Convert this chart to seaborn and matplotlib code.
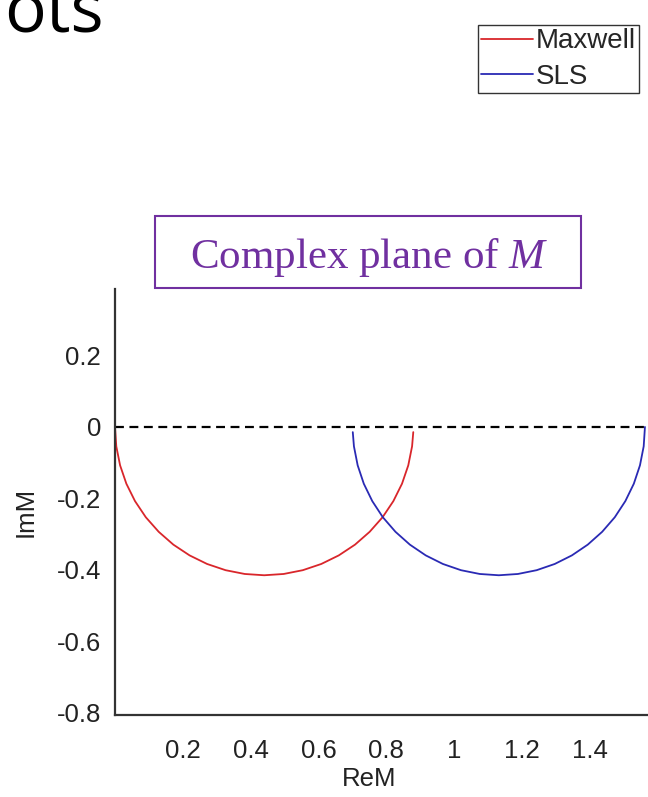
import matplotlib
matplotlib.use('Agg')
import matplotlib.pyplot as plt
import seaborn as sns
from matplotlib.patches import Rectangle

# points (ReM, ImM)
maxwell_re = [0.0, 0.0038, 0.0150, 0.0335, 0.0590, 0.0909, 0.1289, 0.1721, 0.2200,
              0.2716, 0.3261, 0.3826, 0.4400, 0.4974, 0.5539, 0.6084, 0.6600, 0.7079,
              0.7511, 0.7891, 0.8210, 0.8465, 0.8650, 0.8762, 0.8797]
maxwell_im = [0.0, -0.0542, -0.1074, -0.1588, -0.2075, -0.2527, -0.2934, -0.3293, -0.3594,
              -0.3834, -0.4008, -0.4114, -0.4150, -0.4114, -0.4008, -0.3834, -0.3594, -0.3293,
              -0.2934, -0.2527, -0.2075, -0.1588, -0.1074, -0.0542, -0.0145]
sls_re = [0.7013, 0.7047, 0.7157, 0.7338, 0.7588, 0.7900, 0.8272, 0.8697, 0.9165,
          0.9671, 1.0204, 1.0758, 1.1320, 1.1882, 1.2436, 1.2969, 1.3475, 1.3943,
          1.4368, 1.4740, 1.5052, 1.5302, 1.5483, 1.5593, 1.5630]
sls_im = [-0.0145, -0.0542, -0.1074, -0.1588, -0.2075, -0.2527, -0.2934, -0.3293, -0.3594,
          -0.3834, -0.4008, -0.4114, -0.4150, -0.4114, -0.4008, -0.3834, -0.3594, -0.3293,
          -0.2934, -0.2527, -0.2075, -0.1588, -0.1074, -0.0542, 0.0]

x_ticks = [0.2, 0.4, 0.6, 0.8, 1.0, 1.2, 1.4]
x_labels = ['0.2', '0.4', '0.6', '0.8', '1', '1.2', '1.4']
y_ticks = [0.2, 0.0, -0.2, -0.4, -0.6, -0.8]
y_labels = ['0.2', '0', '-0.2', '-0.4', '-0.6', '-0.8']

sns.set_theme(style='white')
plt.rcParams['font.family'] = ['Liberation Sans', 'DejaVu Sans']
plt.rcParams['mathtext.fontset'] = 'custom'
plt.rcParams['mathtext.rm'] = 'Liberation Serif'
plt.rcParams['mathtext.it'] = 'Liberation Serif:italic'

W, H = 648, 797
fig = plt.figure(figsize=(W / 100, H / 100), dpi=100)
ax = fig.add_axes([115 / W, (H - 715) / H, (W - 115) / W, (715 - 289) / H])

ax.axhline(0, color='black', lw=1.6, ls=(0, (4, 2.5)), zorder=1)
sns.lineplot(x=maxwell_re, y=maxwell_im, sort=False, estimator=None, ax=ax,
             color='#d9262b', lw=1.3, label='Maxwell')
sns.lineplot(x=sls_re, y=sls_im, sort=False, estimator=None, ax=ax,
             color='#2a2ab4', lw=1.3, label='SLS')

ax.set_xlim(0, 1.572)
ax.set_ylim(-0.806, 0.386)
ax.set_xticks(x_ticks)
ax.set_xticklabels(x_labels)
ax.set_yticks(y_ticks)
ax.set_yticklabels(y_labels)
ax.tick_params(direction='in', length=6, width=1.3, color='#333333',
               labelsize=18.5, labelcolor='#222222')
ax.tick_params(axis='x', pad=17)
ax.tick_params(axis='y', pad=10)
for s in ['top', 'right']:
    ax.spines[s].set_visible(False)
for s in ['left', 'bottom']:
    ax.spines[s].set_color('#333333')
    ax.spines[s].set_linewidth(1.6)

ax.set_xlabel('ReM', fontsize=18.5, color='#222222')
ax.xaxis.set_label_coords((369 - 115) / (W - 115), -0.122)
ax.set_ylabel('ImM', fontsize=18.5, color='#222222')
ax.yaxis.set_label_coords(-0.146, 0.477)

handles, labels = ax.get_legend_handles_labels()
leg = ax.legend(handles, labels, loc='upper left',
                bbox_to_anchor=(478 / W, 1 - 25 / H), bbox_transform=fig.transFigure,
                fontsize=20, handlelength=1.85, handletextpad=0.1, labelspacing=0.33,
                borderpad=0.12, borderaxespad=0, fancybox=False, framealpha=1)
leg.get_frame().set_edgecolor('#333333')
leg.get_frame().set_linewidth(1.0)

# title box
fig.add_artist(Rectangle((155 / W, 1 - 288 / H), 426 / W, 72 / H, transform=fig.transFigure,
                         fill=False, ec='#7030a0', lw=1.5))
fig.text(369 / W, 1 - 268 / H, r'Complex plane of $M$', ha='center', va='baseline',
         fontsize=31, color='#7030a0', family='Liberation Serif')

# slide title fragment (cut at the top edge, as in the slide)
fig.text(4 / W, 1 - 32 / H, 'ots', ha='left', va='baseline', fontsize=50,
         family='Open Sans', color='black')

fig.savefig('out.png', dpi=100)
